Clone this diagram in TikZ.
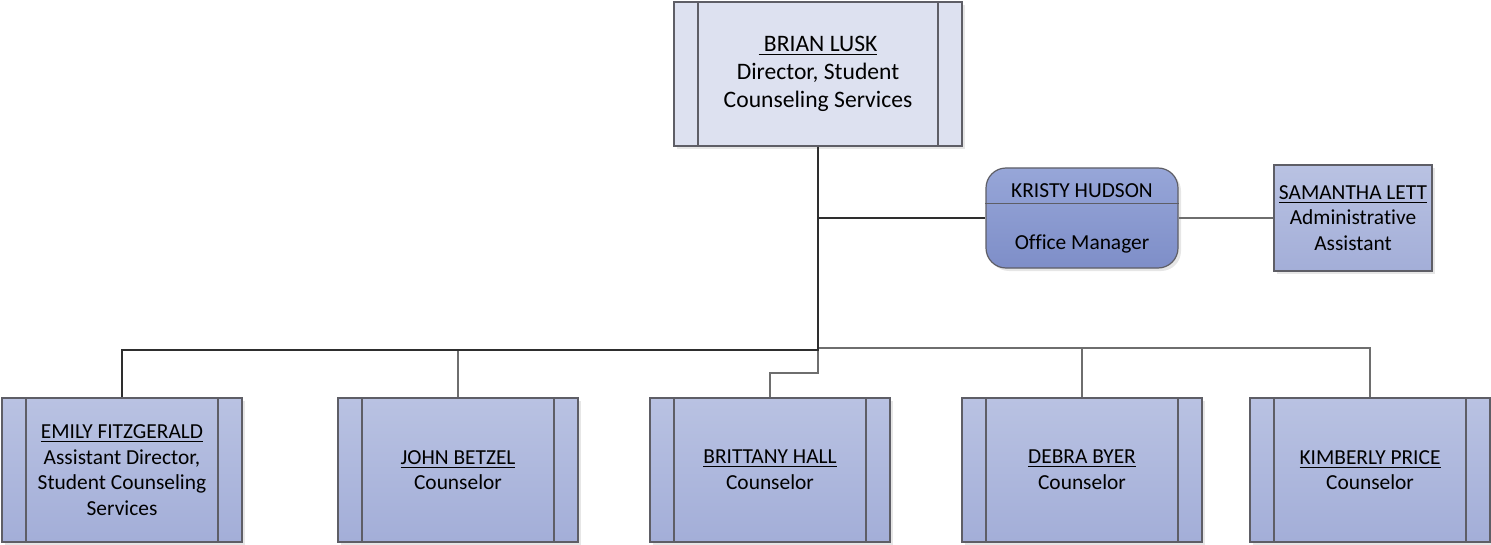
\documentclass[tikz,border=0pt]{standalone}
\usepackage{fontspec}
\setmainfont{Carlito}[Ligatures=NoCommon]
\usetikzlibrary{shadows}

\definecolor{boxline}{HTML}{5E5E66}
\definecolor{topfill}{HTML}{DDE1F0}
\definecolor{stafftop}{HTML}{B9C2E2}
\definecolor{staffbot}{HTML}{A3AED8}
\definecolor{mgrtop}{HTML}{97A6D8}
\definecolor{mgrbot}{HTML}{7E8EC8}
\definecolor{mainline}{HTML}{2E2E2E}
\definecolor{subline}{HTML}{6E6E6E}

\tikzset{
  orgshadow/.style={drop shadow={shadow xshift=1.5pt, shadow yshift=-1.5pt, opacity=0.2}},
  sidebars/.style={path picture={
      \draw[boxline, line width=0.6pt]
        ([xshift=12pt]path picture bounding box.north west) -- ([xshift=12pt]path picture bounding box.south west)
        ([xshift=-12pt]path picture bounding box.north east) -- ([xshift=-12pt]path picture bounding box.south east);}},
  headbox/.style={draw=boxline, line width=0.6pt, fill=topfill, sidebars, orgshadow,
    minimum width=144pt, minimum height=72pt, align=center, inner sep=0pt, font=\fontsize{11.8}{12.9}\selectfont},
  staffbox/.style={draw=boxline, line width=0.6pt, top color=stafftop, bottom color=staffbot, sidebars, orgshadow,
    minimum width=120pt, minimum height=72pt, align=center, inner sep=0pt},
  assistbox/.style={draw=boxline, line width=0.6pt, top color=stafftop, bottom color=staffbot, orgshadow,
    minimum width=79pt, minimum height=53pt, align=center, inner sep=0pt},
  mgrbox/.style={draw=boxline, line width=0.6pt, top color=mgrtop, bottom color=mgrbot, rounded corners=10pt, orgshadow,
    minimum width=96pt, minimum height=50pt, align=center, inner sep=0pt},
  mainlink/.style={draw=mainline, line width=1.4pt},
  sublink/.style={draw=subline, line width=0.75pt}
}

\begin{document}
\begin{tikzpicture}[x=0.5pt, y=-0.5pt, font=\fontsize{10.7}{12.85}\selectfont]
\useasboundingbox (0,0) rectangle (1491,545);

\node[headbox] (brian) at (818,74) {\underline{ BRIAN LUSK}\\[1.1pt]Director, Student\\[1.1pt]Counseling Services};
\node[mgrbox] (kristy) at (1082,218) {KRISTY HUDSON\\[13.15pt]Office Manager};
\node[assistbox] (samantha) at (1353,218) {\underline{SAMANTHA LETT}\\Administrative\\Assistant};

\node[staffbox] (emily) at (122,470) {\underline{EMILY FITZGERALD}\\Assistant Director,\\Student Counseling\\Services};
\node[staffbox] (john) at (458,470) {\underline{JOHN BETZEL}\\Counselor};
\node[staffbox] (brittany) at (770,470) {\underline{BRITTANY HALL}\\Counselor};
\node[staffbox] (debra) at (1082,470) {\underline{DEBRA BYER}\\Counselor};
\node[staffbox] (kimberly) at (1370,470) {\underline{KIMBERLY PRICE}\\Counselor};

\coordinate (hub) at (818,350);
\coordinate (rhub) at (818,348);

\draw[boxline, line width=0.6pt] ([yshift=-18pt]kristy.north west) -- ([yshift=-18pt]kristy.north east);

\draw[sublink] (kristy.east) -- (samantha.west);
\draw[sublink] (rhub) -| (debra.north);
\draw[sublink] (rhub) -| (kimberly.north);
\draw[sublink] (john.north) -- (john.north |- hub);
\draw[sublink] (hub) -- ++(0,23) -| (brittany.north);
\draw[mainlink] (brian.south |- kristy.west) -- (kristy.west);
\draw[mainlink] (brian.south) -- (hub) -| (emily.north);
\end{tikzpicture}
\end{document}
